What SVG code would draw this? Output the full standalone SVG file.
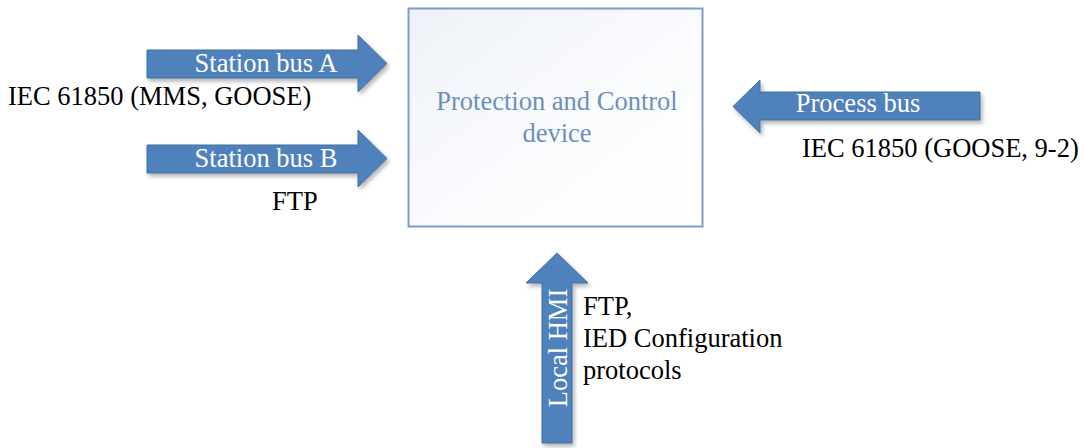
<svg xmlns="http://www.w3.org/2000/svg" width="1084" height="448" viewBox="0 0 1084 448">
  <style>
    .lbl { font-family: "Liberation Serif", "Times New Roman", serif; font-size: 26.5px; fill: #000000; }
    .arrow-text { font-family: "Liberation Serif", "Times New Roman", serif; font-size: 26.5px; fill: #ffffff; text-anchor: middle; }
    .box-text { font-family: "Liberation Serif", "Times New Roman", serif; font-size: 26.5px; fill: #6d8fbe; text-anchor: middle; }
    .arrow { fill: #4f81bd; stroke: #41709f; stroke-width: 1; filter: url(#shadow); }
  </style>
  <defs>
    <linearGradient id="boxFill" x1="0" y1="0" x2="1" y2="1">
      <stop offset="0" stop-color="#eef2f8"/>
      <stop offset="0.6" stop-color="#fbfcfe"/>
      <stop offset="1" stop-color="#ffffff"/>
    </linearGradient>
    <filter id="shadow" x="-10%" y="-20%" width="130%" height="150%">
      <feGaussianBlur in="SourceAlpha" stdDeviation="2"/>
      <feOffset dx="2" dy="3" result="blur"/>
      <feComponentTransfer><feFuncA type="linear" slope="0.3"/></feComponentTransfer>
      <feMerge><feMergeNode/><feMergeNode in="SourceGraphic"/></feMerge>
    </filter>
  </defs>

  <!-- central device -->
  <g id="device">
    <rect x="408.5" y="8.5" width="294" height="218" fill="url(#boxFill)" stroke="#7d9cc6" stroke-width="2"/>
    <text class="box-text" x="557" y="110">Protection and Control</text>
    <text class="box-text" x="557" y="142">device</text>
  </g>

  <!-- block arrows -->
  <g id="connectors">
    <g id="station-bus-a">
      <path class="arrow" d="M147,50 H358 V35 L387,63.5 L358,92 V78 H147 Z"/>
      <text class="arrow-text" x="266" y="72">Station bus A</text>
    </g>
    <g id="station-bus-b">
      <path class="arrow" d="M147,145 H358 V130 L387,158.5 L358,187 V173 H147 Z"/>
      <text class="arrow-text" x="266" y="167">Station bus B</text>
    </g>
    <g id="process-bus">
      <path class="arrow" d="M980,92 H760 V80 L733,106.5 L760,133 V120 H980 Z"/>
      <text class="arrow-text" x="858" y="112">Process bus</text>
    </g>
    <g id="local-hmi">
      <path class="arrow" d="M542,443 V283 H526 L557,253 L588,283 H572 V443 Z"/>
      <text class="arrow-text" transform="translate(567,348) rotate(-90)">Local HMI</text>
    </g>
  </g>

  <!-- protocol labels -->
  <g id="label-station-a">
    <text class="lbl" x="8" y="105">IEC 61850 (MMS, GOOSE)</text>
  </g>
  <g id="label-station-b">
    <text class="lbl" x="272" y="210">FTP</text>
  </g>
  <g id="label-process">
    <text class="lbl" x="802" y="157">IEC 61850 (GOOSE, 9-2)</text>
  </g>
  <g id="label-hmi">
    <text class="lbl" x="583" y="315">FTP,</text>
    <text class="lbl" x="583" y="347">IED Configuration</text>
    <text class="lbl" x="583" y="379">protocols</text>
  </g>
</svg>
